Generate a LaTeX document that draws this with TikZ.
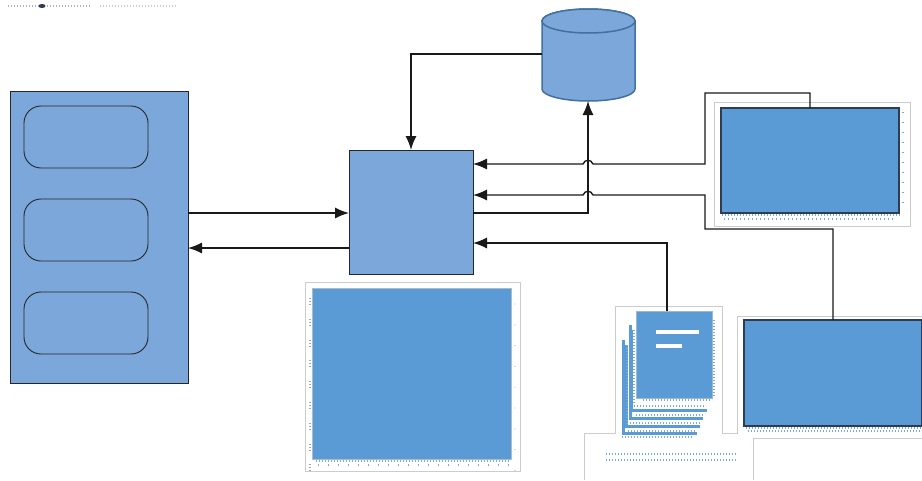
\documentclass[tikz,border=0pt]{standalone}
\usetikzlibrary{arrows.meta}
\definecolor{paleblue}{HTML}{7BA7DA}
\definecolor{midblue}{HTML}{5B9BD5}
\definecolor{edgeblue}{HTML}{41719C}
\definecolor{darkedge}{HTML}{2F3B52}
\definecolor{framegray}{HTML}{CCCCCC}
\definecolor{dotblue}{HTML}{7FA9CF}
\tikzset{
    block/.style={draw=black!85, fill=paleblue, line width=0.9pt, inner sep=0pt, outer sep=0pt, anchor=north west},
    slot/.style={draw=black!85, fill=paleblue, line width=0.9pt, rounded corners=17pt, inner sep=0pt, outer sep=0pt, anchor=north west, minimum width=124pt, minimum height=62pt},
    screen/.style={draw=darkedge, fill=midblue, line width=1.5pt, inner sep=0pt, outer sep=0pt, anchor=north west, minimum width=178pt, minimum height=105pt},
    frame/.style={draw=framegray, line width=0.8pt},
    link/.style={draw=black!90, line width=1.4pt},
    linkarrow/.style={link, -{Latex[length=14pt,width=11pt]}},
    dotrow/.style={dotblue, line width=1.1pt, dash pattern=on 1pt off 2pt}
}
\begin{document}
\begin{tikzpicture}[x=1pt, y=-1pt]
    \useasboundingbox (0,0) rectangle (922,480);
    % grey picture frames
    \draw[frame] (305,282) rectangle (520,471);
    \draw[frame] (714,102) rectangle (910,226);
    \draw[frame] (584,480) -- (584,433) -- (615,433) -- (615,306) -- (722,306) -- (722,433) -- (737,433) -- (737,316) -- (922,316);
    \draw[frame] (753,480) -- (753,438) -- (922,438);
    % left block
    \node[block, minimum width=178pt, minimum height=292pt] (unit) at (10,91) {};
    \node[slot] (slotA) at (24,106) {};
    \node[slot] (slotB) at (24,199) {};
    \node[slot] (slotC) at (24,292) {};
    % centre block
    \node[block, minimum width=124pt, minimum height=124pt] (core) at (349,150) {};
    % store
    \node[inner sep=0pt, outer sep=0pt, minimum width=93pt, minimum height=93pt] (store) at (588.5,55) {};
    \draw[draw=edgeblue, fill=paleblue, line width=1.5pt] (542,21) -- (542,89)
        arc (180:0:46.5 and 12) -- (635,21) arc (0:-180:46.5 and 12);
    \draw[draw=edgeblue, fill=paleblue, line width=1.5pt] (588.5,21) ellipse (46.5 and 12);
    % large panel
    \node[draw=framegray!70!midblue, line width=0.8pt, fill=midblue, inner sep=0pt, outer sep=0pt, anchor=north west,
        minimum width=199pt, minimum height=171pt] (panel) at (312,288) {};
    \foreach \i in {0,...,8} {
        \draw[dotrow, gray!70] (310,{298+\i*20.8}) -- (310,{306+\i*20.8});
        \fill[cyan!50] (515,{304+\i*20.8}) circle (0.7pt);
    }
    \draw[dotrow] (316,461) -- (510,461);
    \draw[dotrow, dash pattern=on 1pt off 9pt] (318,465) -- (510,465);
    % screens
    \node[screen] (screenA) at (721,108) {};
    \node[screen, minimum height=106pt] (screenB) at (744,320) {};
    \draw[dotrow] (722,215) -- (900,215);
    \draw[dotrow, dash pattern=on 1pt off 3pt] (724,219) -- (896,219);
    \draw[dotrow, dash pattern=on 1pt off 9pt] (903,112) -- (903,212);
    \draw[dotrow] (746,428) -- (922,428);
    \draw[dotrow] (748,431) -- (922,431);
    % stacked pages
    \foreach \l/\t/\r/\b in {622/340/697/435, 625/345/700/428, 629/325/703/420, 630/330/707/412} {
        \fill[midblue] (\l,\t) rectangle (\r,\b);
        \fill[white] (\l+3,\t-3) rectangle (\r+3,\b-3);
    }
    \fill[white] (633,308) rectangle (716,404);
    \node[draw=framegray!60!midblue, line width=0.8pt, fill=midblue, inner sep=0pt, outer sep=0pt, anchor=north west,
        minimum width=76pt, minimum height=87pt] (pages) at (636,311) {};
    \fill[white] (656,330) rectangle (699,334);
    \fill[white] (656,344) rectangle (682,348);
    \draw[dotrow] (643,400) -- (712,400);
    \draw[dotrow] (634,406) -- (706,406);
    \draw[dotrow] (636,415) -- (703,415);
    \draw[dotrow] (630,423) -- (700,423);
    \draw[dotrow] (628,431) -- (696,431);
    \draw[dotrow] (622,437) -- (694,437);
    \draw[dotrow] (714,320) -- (714,396);
    \draw[dotrow] (627,345) -- (627,425);
    \draw[dotrow] (634,330) -- (634,405);
    \draw[dotrow] (606,454) -- (736,454);
    \draw[dotrow] (606,460) -- (736,460);
    % faint heading smudge
    \draw[dotrow, gray!60] (8,6) -- (90,6);
    \draw[dotrow, gray!40] (100,6) -- (176,6);
    \fill[darkedge] (42,6) ellipse (3.5pt and 2pt);
    % connector ends
    \coordinate (coreInA) at (349,213);
    \coordinate (coreOutA) at (349,248);
    \coordinate (unitOutA) at (188,213);
    \coordinate (unitInA) at (188,248);
    \coordinate (coreTop) at (411,150);
    \coordinate (storeLeft) at (542,54);
    \coordinate (storeBottom) at (588,101);
    \coordinate (coreOutB) at (473,213);
    \coordinate (coreInB) at (473,164);
    \coordinate (coreInC) at (473,195);
    \coordinate (coreInD) at (473,243);
    \coordinate (screenAtop) at (810,108);
    \coordinate (screenBtop) at (833,320);
    \coordinate (pagesTop) at (667,311);
    % connectors
    \draw[linkarrow] (unitOutA) -- (coreInA);
    \draw[linkarrow] (coreOutA) -- (unitInA);
    \draw[linkarrow] (storeLeft) -| (coreTop);
    \draw[linkarrow] (coreOutB) -| (storeBottom);
    \draw[linkarrow] (screenAtop) -- (810,93) -- (705,93) -- (705,164) -- (593,164)
        .. controls (591,159) and (585,159) .. (583,164) -- (coreInB);
    \draw[linkarrow] (screenBtop) -- (833,229) -- (705,229) -- (705,195) -- (593,195)
        .. controls (591,190) and (585,190) .. (583,195) -- (coreInC);
    \draw[linkarrow] (pagesTop) |- (coreInD);
\end{tikzpicture}
\end{document}
